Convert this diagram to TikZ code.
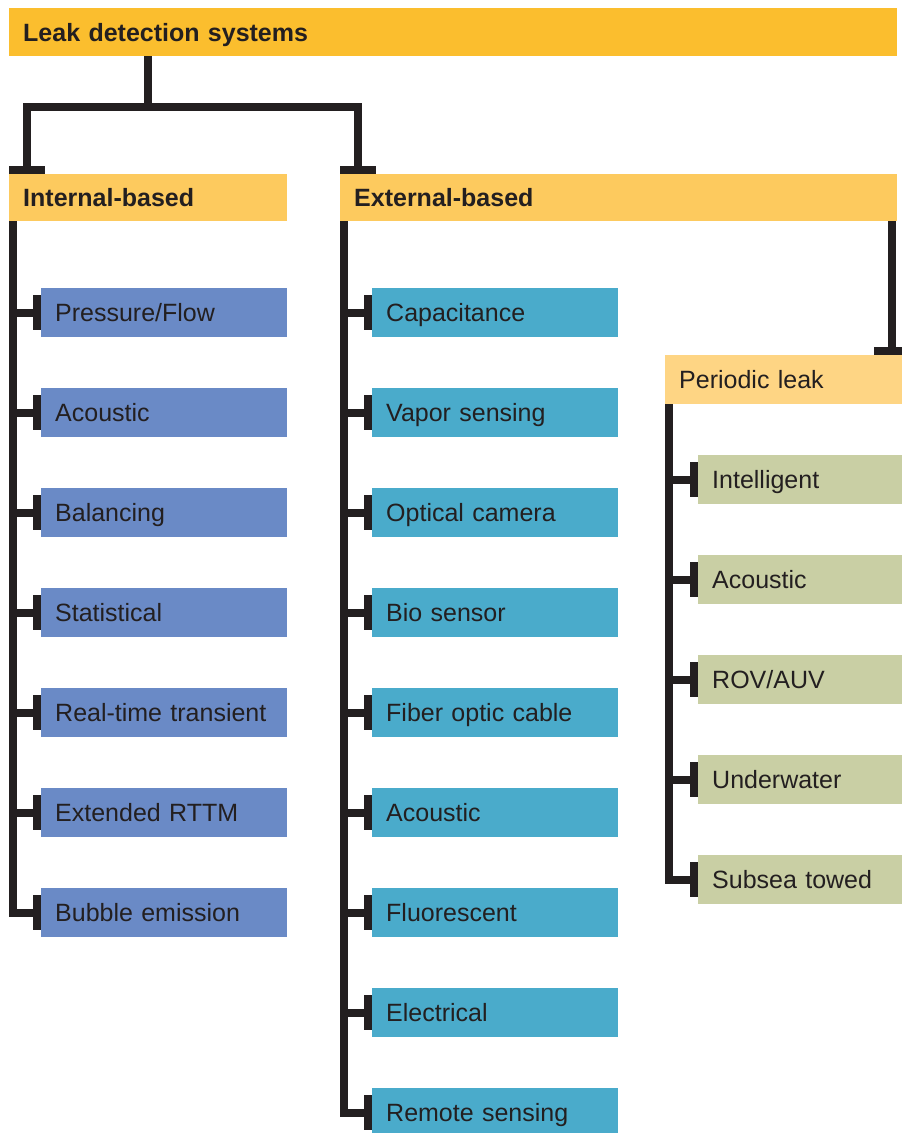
\documentclass[tikz,border=0pt]{standalone}
\usepackage{fontspec}
\setmainfont{Liberation Sans}
\usetikzlibrary{calc}
\definecolor{ink}{HTML}{231F20}
\definecolor{topc}{HTML}{FBBE2E}
\definecolor{headc}{HTML}{FDCA5E}
\definecolor{perc}{HTML}{FED584}
\definecolor{bluec}{HTML}{6A8AC6}
\definecolor{tealc}{HTML}{4AABCB}
\definecolor{greenc}{HTML}{C9CFA4}
\begin{document}
\begin{tikzpicture}[x=1pt,y=-1pt,
  lbox/.style={anchor=north west, inner xsep=14pt, inner ysep=0pt, align=left,
    text height=17.9pt, text depth=0pt, text=ink, font=\fontsize{25}{30}\selectfont},
  intbox/.style={lbox, fill=bluec, minimum width=246pt, text width=218pt, minimum height=49pt},
  extbox/.style={lbox, fill=tealc, minimum width=246pt, text width=218pt, minimum height=49pt},
  perbox/.style={lbox, fill=greenc, minimum width=210pt, text width=182pt, minimum height=49pt},
  conn/.style={draw=ink, line width=8pt, line cap=butt, line join=miter}]
\useasboundingbox (0,0) rectangle (902,1133);
\clip (0,0) rectangle (902,1133);

% headers
\node[lbox, fill=topc, minimum width=888pt, text width=860pt, minimum height=48pt, font=\fontsize{25}{30}\selectfont\bfseries] (top) at (9,8) {Leak detection systems};
\node[lbox, fill=headc, minimum width=278pt, text width=250pt, minimum height=47pt, font=\fontsize{25}{30}\selectfont\bfseries] (int) at (9,174) {Internal-based};
\node[lbox, fill=headc, minimum width=557pt, text width=529pt, minimum height=47pt, font=\fontsize{25}{30}\selectfont\bfseries] (ext) at (340,174) {External-based};
\node[lbox, fill=perc, minimum width=243pt, text width=215pt, minimum height=49pt] (per) at (665,355) {Periodic leak};

% internal children
\foreach \t [count=\i from 0] in {Pressure/Flow,Acoustic,Balancing,Statistical,Real-time transient,Extended RTTM,Bubble emission}
  \node[intbox] (i\i) at (41,288+100*\i) {\t};
% external children
\foreach \t [count=\i from 0] in {Capacitance,Vapor sensing,Optical camera,Bio sensor,Fiber optic cable,Acoustic,Fluorescent,Electrical,Remote sensing}
  \node[extbox] (e\i) at (372,288+100*\i) {\t};
% periodic children
\foreach \t [count=\i from 0] in {Intelligent,Acoustic,ROV/AUV,Underwater,Subsea towed}
  \node[perbox] (p\i) at (698,455+100*\i) {\t};

% top connectors
\coordinate (stem) at (148,107);
\draw[conn] (stem |- top.south) -- (stem);
\draw[conn] ([xshift=18pt,yshift=4pt]int.north west) -- ([xshift=18pt]int.north west |- stem)
  -- ([xshift=18pt]ext.north west |- stem) -- ([xshift=18pt,yshift=4pt]ext.north west);
\draw[conn] ([yshift=4pt]int.north west) -- ++(36,0);
\draw[conn] ([yshift=4pt]ext.north west) -- ++(36,0);

% internal tree
\draw[conn] ([xshift=4pt]int.south west) |- (i6.west);
\foreach \i in {0,...,5}
  \draw[conn] ([xshift=4pt]int.south west |- i\i.west) -- (i\i.west);
\foreach \i in {0,...,6}
  \draw[conn] ([xshift=-4pt,yshift=17.5pt]i\i.west) -- ++(0,35);

% external tree
\draw[conn] ([xshift=4pt]ext.south west) |- (e8.west);
\foreach \i in {0,...,7}
  \draw[conn] ([xshift=4pt]ext.south west |- e\i.west) -- (e\i.west);
\foreach \i in {0,...,8}
  \draw[conn] ([xshift=-4pt,yshift=17.5pt]e\i.west) -- ++(0,35);

% external to periodic
\coordinate (pt) at ([xshift=-5pt]ext.south east);
\coordinate (ptb) at ([yshift=4pt]pt |- per.north);
\draw[conn] (pt) -- (ptb);
\draw[conn] ([xshift=-18pt]ptb) -- ++(36,0);

% periodic tree
\draw[conn] ([xshift=4pt]per.south west) |- (p4.west);
\foreach \i in {0,...,3}
  \draw[conn] ([xshift=4pt]per.south west |- p\i.west) -- (p\i.west);
\foreach \i in {0,...,4}
  \draw[conn] ([xshift=-4pt,yshift=17.5pt]p\i.west) -- ++(0,35);
\end{tikzpicture}
\end{document}
